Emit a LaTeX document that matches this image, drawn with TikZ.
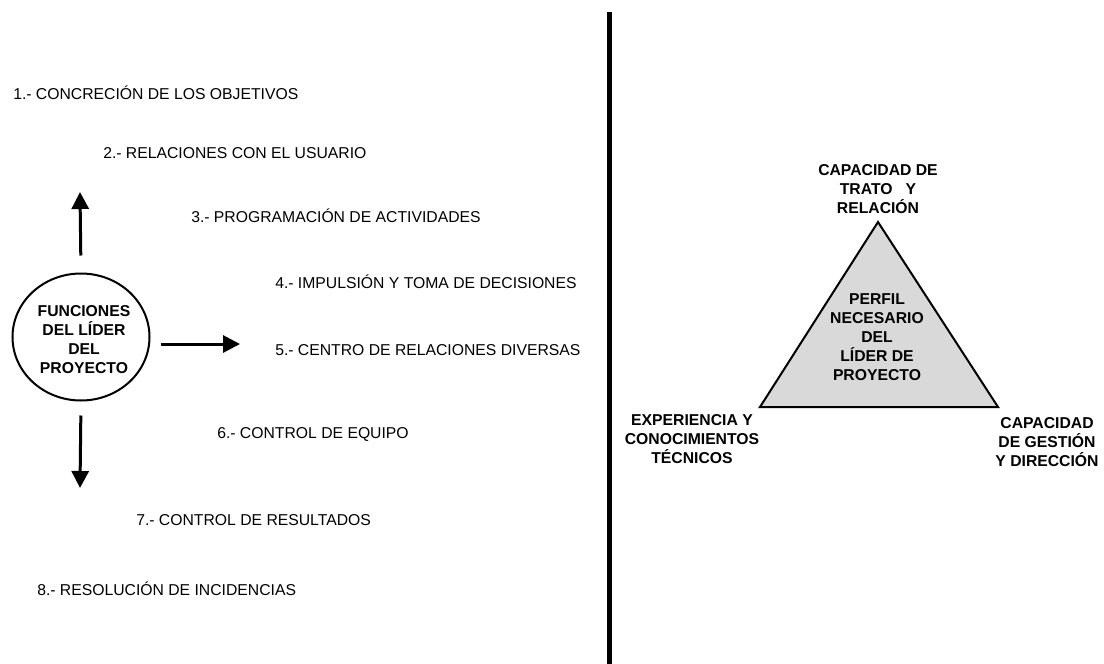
\documentclass[tikz,border=0pt]{standalone}
\usepackage{fontspec}
\setmainfont{Liberation Sans}
\usetikzlibrary{shapes.geometric, arrows.meta}

\begin{document}
\begin{tikzpicture}[x=0.75pt, y=-0.75pt,
        item/.style={anchor=base west, inner sep=0pt, font=\fontsize{11.8}{14.25}\selectfont},
        lbl/.style={align=center, inner sep=0pt, font=\bfseries\fontsize{11.8}{14.25}\selectfont},
        arr/.style={-{Triangle[length=12.75pt, width=12.75pt]}, line width=2.25pt}]
    \useasboundingbox (0,0) rectangle (1104,664);
    \draw[line width=4.2pt] (609.5,12) -- (609.5,664);
    % funciones
    \node[item] (f1) at (13,99) {1.- CONCRECIÓN DE LOS OBJETIVOS};
    \node[item] (f2) at (103,158) {2.- RELACIONES CON EL USUARIO};
    \node[item] (f3) at (191,222) {3.- PROGRAMACIÓN DE ACTIVIDADES};
    \node[item] (f4) at (275,288) {4.- IMPULSIÓN Y TOMA DE DECISIONES};
    \node[item] (f5) at (275,355) {5.- CENTRO DE RELACIONES DIVERSAS};
    \node[item] (f6) at (217,438) {6.- CONTROL DE EQUIPO};
    \node[item] (f7) at (136,525) {7.- CONTROL DE RESULTADOS};
    \node[item] (f8) at (37,595) {8.- RESOLUCIÓN DE INCIDENCIAS};
    \node[ellipse, draw, line width=1.5pt, minimum width=102.75pt, minimum height=95.25pt] (lider) at (81,337) {};
    \node[lbl] (liderTxt) at (84,340) {FUNCIONES\\DEL LÍDER\\DEL\\PROYECTO};
    \coordinate (arriba) at (80,192);
    \coordinate (derecha) at (240,344);
    \coordinate (abajo) at (80,488);
    \draw[arr, shorten <=12.75pt] (lider.north) -- (arriba);
    \draw[arr, shorten <=7.5pt] (lider.east |- derecha) -- (derecha);
    \draw[arr, shorten <=10.5pt] (lider.south) -- (abajo);
    % perfil
    \coordinate (apex) at (878,222);
    \coordinate (izq) at (760,407);
    \coordinate (der) at (998,407);
    \draw[fill=gray!30, line width=1.5pt, line join=miter] (apex) -- (izq) -- (der) -- cycle;
    \node[lbl] (perfil) at (877,337) {PERFIL\\NECESARIO\\DEL\\LÍDER DE\\PROYECTO};
    \node[lbl] (trato) at (878,189) {CAPACIDAD DE\\TRATO \ \ Y\\RELACIÓN};
    \node[lbl] (tecnicos) at (692,439) {EXPERIENCIA Y\\CONOCIMIENTOS\\TÉCNICOS};
    \node[lbl] (gestion) at (1047,442) {CAPACIDAD\\DE GESTIÓN\\Y DIRECCIÓN};
\end{tikzpicture}
\end{document}
